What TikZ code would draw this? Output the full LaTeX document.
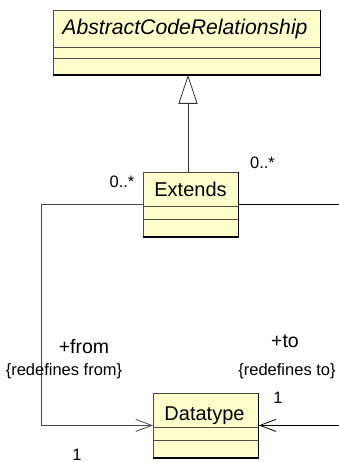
\documentclass[tikz,border=0pt]{standalone}
\usepackage{fontspec}
\setmainfont{Liberation Sans}
\usetikzlibrary{arrows.meta}
\definecolor{classfill}{RGB}{255,255,204}
\begin{document}
\begin{tikzpicture}[x=1pt,y=-1pt,
  classbox/.style={draw=black!70, line width=0.8pt, fill=classfill, inner sep=0pt, anchor=north west},
  sepline/.style={draw=black!70, line width=0.8pt},
  shadowline/.style={draw=black, line width=1.6pt},
  classname/.style={anchor=base, inner sep=0pt, font=\fontsize{20}{22}\selectfont},
  rolename/.style={anchor=base, inner sep=0pt, font=\fontsize{19.5}{22}\selectfont},
  smalllabel/.style={anchor=base, inner sep=0pt, font=\fontsize{16.5}{19}\selectfont},
  assoc/.style={draw=black!70, line width=0.8pt},
  navarrow/.style={-{Straight Barb[length=16pt,width=12pt,line width=0.8pt]}},
  genarrow/.style={-{Triangle[open,length=29pt,width=19pt,line width=0.8pt,fill=white]}}
]
\useasboundingbox (0,0) rectangle (339,462);

% AbstractCodeRelationship
\node[classbox, minimum width=267pt, minimum height=64pt] (acr) at (53,10) {};
\draw[sepline] (53,47) -- (320,47);
\draw[sepline] (53,58) -- (320,58);
\draw[shadowline] (acr.south west) -- (acr.south east);
\draw[draw=black, line width=1pt] (acr.south east) -- (acr.north east);
\node[classname, font=\fontsize{21.2}{24}\selectfont\itshape] (acrname) at (185,34.5) {AbstractCodeRelationship};

% Extends
\node[classbox, minimum width=95pt, minimum height=64pt] (ext) at (143,172) {};
\draw[sepline] (143,206) -- (238,206);
\draw[sepline] (143,219) -- (238,219);
\draw[shadowline] (ext.south west) -- (ext.south east);
\draw[draw=black, line width=1pt] (ext.south east) -- (ext.north east);
\node[classname] (extname) at (190.5,196.5) {Extends};

% Datatype
\node[classbox, minimum width=105pt, minimum height=64pt] (dt) at (153,393) {};
\draw[sepline] (153,427) -- (258,427);
\draw[sepline] (153,440) -- (258,440);
\draw[shadowline] (dt.south west) -- (dt.south east);
\draw[draw=black, line width=1pt] (dt.south east) -- (dt.north east);
\node[classname] (dtname) at (204.5,420.5) {Datatype};

% generalization
\coordinate (inhx) at (188,0);
\draw[draw=black!80, line width=0.8pt, genarrow] (ext.north -| inhx) -- (acr.south -| inhx);

% left association (from)
\coordinate (lcorner) at (41,0);
\draw[assoc, navarrow] (ext.west) -| (lcorner |- dt.west) -- (dt.west);

% right association (to)
\coordinate (rout) at (339,0);
\draw[draw=black, line width=0.8pt] (ext.east) -- (ext.east -| rout);
\draw[draw=black, line width=0.8pt, navarrow] (dt.east -| rout) -- (dt.east);

% labels
\node[smalllabel] (mleft) at (122,187) {0..*};
\node[smalllabel] (mright) at (262.5,169) {0..*};
\node[rolename] (from) at (84,353) {+from};
\node[smalllabel] (redfrom) at (64,375) {\{redefines from\}};
\node[rolename] (to) at (285,347) {+to};
\node[smalllabel] (redto) at (287,375) {\{redefines to\}};
\node[smalllabel] (oneright) at (278,403) {1};
\node[smalllabel] (oneleft) at (77,460) {1};
\end{tikzpicture}
\end{document}
